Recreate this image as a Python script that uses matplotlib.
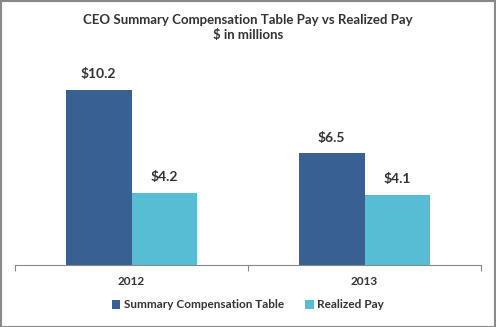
import matplotlib
matplotlib.use("Agg")
import matplotlib.pyplot as plt
from matplotlib.patches import Rectangle
import numpy as np

years = ["2012", "2013"]
sct = [10.2, 6.5]
realized = [4.2, 4.1]
series_names = ["Summary Compensation Table", "Realized Pay"]
colors = ["#386090", "#57BDD5"]

plt.rcParams['font.family'] = ['Lato', 'DejaVu Sans']
W, H = 496, 327
fig = plt.figure(figsize=(W/100, H/100), dpi=100)
fig.patch.set_facecolor("white")

# axes: x 15..481, y 65..265 (pixels from top)
ax = fig.add_axes([15/W, 1-265/H, 466/W, 200/H])
x = np.arange(len(years))
bw = 0.283
b1 = ax.bar(x - bw/2, sct, bw, color=colors[0], label=series_names[0])
b2 = ax.bar(x + bw/2, realized, bw, color=colors[1], label=series_names[1])
ymax = 200/(175/10.2)
ax.set_ylim(0, ymax)
ax.set_xlim(-0.5, 1.5)
for bars in (b1, b2):
    for r in bars:
        ax.annotate(f"${r.get_height():.1f}", (r.get_x()+r.get_width()/2, r.get_height()),
                    xytext=(0, 7), textcoords="offset points", ha="center", va="bottom",
                    fontsize=10, fontweight="bold", color="#333333")
for s in ["top", "right", "left"]:
    ax.spines[s].set_visible(False)
ax.spines["bottom"].set_color("#888888")
ax.set_yticks([])
ax.set_xticks([-0.5, 0.5, 1.5])
ax.set_xticklabels([])
ax.set_xticks(x, minor=True)
ax.set_xticklabels(years, minor=True, fontsize=8.5, fontweight="bold", color="#333333")
ax.tick_params(axis="x", which="major", length=4, color="#888888")
ax.tick_params(axis="x", which="minor", length=0, pad=8)

fig.text(0.5, 1-20/H, "CEO Summary Compensation Table Pay vs Realized Pay", ha="center", va="center",
         fontsize=9.5, fontweight="bold", color="#333333")
fig.text(0.5, 1-35/H, "$ in millions", ha="center", va="center",
         fontsize=9.5, fontweight="bold", color="#333333")

leg = fig.legend(handles=[b1, b2], loc="center", bbox_to_anchor=(0.5, 1-305/H), ncol=2, frameon=False,
                 prop={'size': 8.5, 'weight': 'bold'}, handlelength=0.7, handleheight=0.7,
                 handletextpad=0.3, columnspacing=1.8)
for t in leg.get_texts():
    t.set_color("#333333")

fig.add_artist(Rectangle((0.5/W, 0.5/H), 1-1.5/W, 1-1.5/H, transform=fig.transFigure,
                         fill=False, edgecolor="#888888", linewidth=1.5))
fig.savefig("out.png", dpi=100, facecolor="white")
